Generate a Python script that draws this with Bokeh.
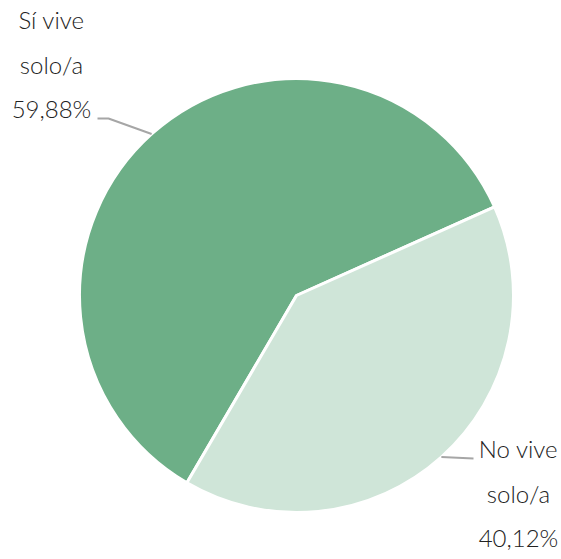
import math
from bokeh.plotting import figure
from bokeh.models import ColumnDataSource, Range1d
from bokeh.core.properties import value
from bokeh.embed import file_html
from bokeh.resources import INLINE

# ---- data ----
categories = ["Sí vive solo/a", "No vive solo/a"]
percents = [59.88, 40.12]
pct_labels = ["59,88%", "40,12%"]
label_lines = [["Sí vive", "solo/a"], ["No vive", "solo/a"]]
colors = ["#6daf87", "#cfe5d8"]

# ---- layout ----
W, H = 561, 559
cx, cy, R = 296, 264, 217
start_deg = 24.1           # boundary between slices (anticlockwise from east)
text_font = value("Lato Light")
text_color = "#222222"

p = figure(width=W, height=H, output_backend="svg", toolbar_location=None,
           x_range=Range1d(0, W), y_range=Range1d(0, H), min_border=0)
p.axis.visible = False
p.grid.visible = False
p.outline_line_color = None
p.background_fill_color = "white"

total = sum(percents)
si_span = percents[0] / total * 2 * math.pi
no_span = percents[1] / total * 2 * math.pi
s0 = math.radians(start_deg)
starts = [s0, s0 - no_span]
ends = [s0 + si_span, s0]
mids = [(a + b) / 2 for a, b in zip(starts, ends)]

src = ColumnDataSource(dict(x=[cx, cx], y=[cy, cy], s=starts, e=ends, c=colors))
p.wedge(x="x", y="y", radius=R, start_angle="s", end_angle="e", fill_color="c",
        line_color="white", line_width=3, source=src)

label_pos = [(51, 540), (518, 111)]
line_gap = 44.5
leader_end = [(97, 441), (473, 101)]
leader_elbow = [(108, 441), (473, 101)]

for i in range(2):
    mx = cx + R * math.cos(mids[i])
    my = cy + R * math.sin(mids[i])
    ex, ey = leader_elbow[i]
    lx, ly = leader_end[i]
    p.line([mx, ex, lx], [my, ey, ly], line_color="#a6a6a6", line_width=2)
    tx, ty = label_pos[i]
    lines = label_lines[i] + [pct_labels[i]]
    p.text(x=[tx] * 3, y=[ty - k * line_gap for k in range(3)], text=lines,
           text_font=text_font, text_font_size="24px", text_color=text_color,
           text_align="center", text_baseline="middle")

open("out.html", "w").write(file_html(p, INLINE))
